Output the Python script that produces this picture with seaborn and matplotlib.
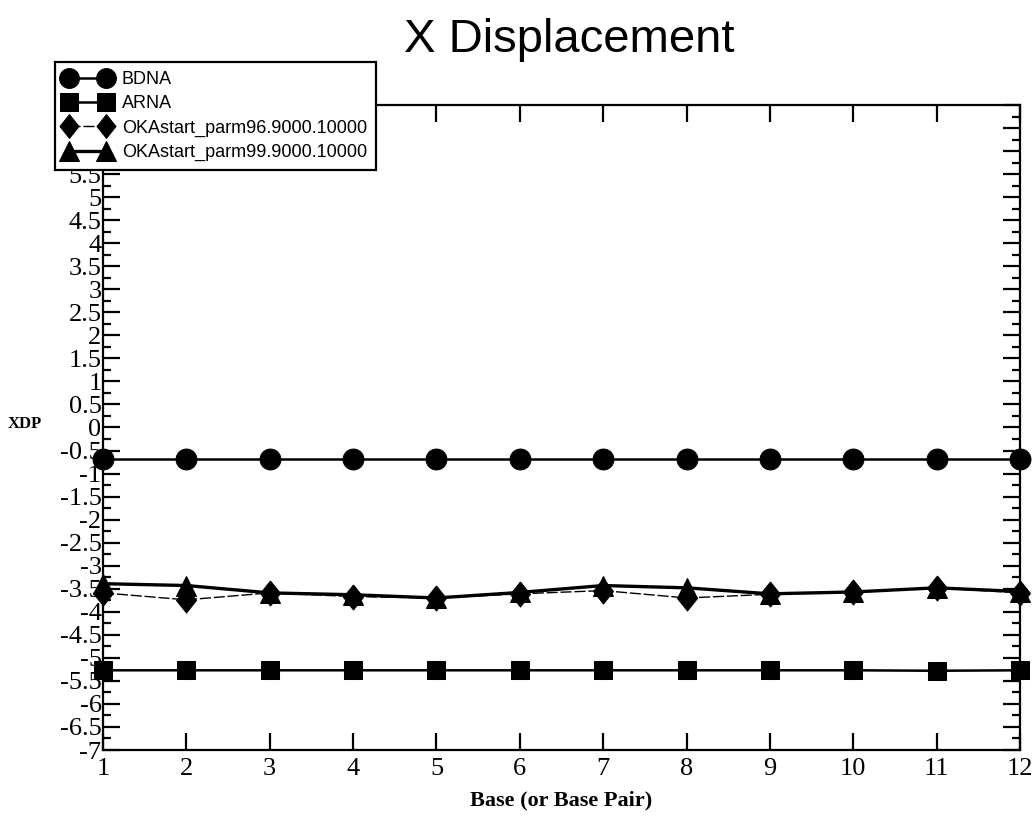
import numpy as np
import pandas as pd
import matplotlib
matplotlib.use("Agg")
import matplotlib.pyplot as plt
from matplotlib.ticker import MultipleLocator
import seaborn as sns

# data
base = [1, 2, 3, 4, 5, 6, 7, 8, 9, 10, 11, 12]
bdna = [-0.68, -0.68, -0.68, -0.68, -0.68, -0.68, -0.68, -0.68, -0.68, -0.68, -0.68, -0.68]
arna = [-5.27, -5.27, -5.27, -5.27, -5.27, -5.27, -5.27, -5.27, -5.27, -5.27, -5.28, -5.27]
oka96 = [-3.59, -3.74, -3.59, -3.67, -3.70, -3.61, -3.54, -3.70, -3.62, -3.57, -3.48, -3.59]
oka99 = [-3.39, -3.43, -3.59, -3.63, -3.70, -3.58, -3.43, -3.48, -3.61, -3.57, -3.48, -3.56]
labels = ["BDNA", "ARNA", "OKAstart_parm96.9000.10000", "OKAstart_parm99.9000.10000"]

sns.set_style("ticks")
plt.rcParams['font.family'] = ['Liberation Serif', 'DejaVu Serif']
plt.rcParams['text.color'] = 'black'
plt.rcParams['axes.labelcolor'] = 'black'
plt.rcParams['xtick.color'] = 'black'
plt.rcParams['ytick.color'] = 'black'

fig = plt.figure(figsize=(10.35, 8.38), dpi=100)
ax = fig.add_axes([103/1035, 88/838, (1020-103)/1035, (750-105)/838])

tall_diamond = [(0, 1), (0.8, 0), (0, -1), (-0.8, 0), (0, 1)]
styles = [
    dict(y=bdna, marker='o', ms=15, lw=1.8, ls='-'),
    dict(y=arna, marker='s', ms=13.5, lw=1.8, ls='-'),
    dict(y=oka96, marker=tall_diamond, ms=18, lw=1.0, ls=(0, (8, 2))),
    dict(y=oka99, marker='^', ms=15, lw=2.4, ls='-'),
]
for lab, st in zip(labels, styles):
    sns.lineplot(x=base, y=st['y'], ax=ax, color='black', marker=st['marker'],
                 markersize=st['ms'], markeredgecolor='black', linewidth=st['lw'],
                 linestyle=st['ls'], label=lab, clip_on=False)

ax.set_xlim(1, 12)
ax.set_ylim(-7, 7)
ax.xaxis.set_major_locator(MultipleLocator(1))
ax.yaxis.set_major_locator(MultipleLocator(0.5))
ax.yaxis.set_minor_locator(MultipleLocator(0.25))
ax.yaxis.set_major_formatter(plt.FuncFormatter(lambda v, p: ('%g' % v)))
for s in ax.spines.values():
    s.set_visible(True)
    s.set_linewidth(1.6)
    s.set_color('black')
ax.tick_params(which='both', direction='in', top=True, right=True, width=1.6,
               color='black', labelcolor='black')
ax.tick_params(which='major', length=12)
ax.tick_params(which='minor', length=6)
ax.tick_params(axis='y', labelsize=19, pad=1)
ax.tick_params(axis='x', labelsize=19, pad=6)

ax.set_xlabel("Base (or Base Pair)", fontsize=16, fontweight='bold', labelpad=7,
              color='black')
ax.set_ylabel("XDP", fontsize=12, fontweight='bold', rotation=0, color='black')
ax.yaxis.set_label_coords(-0.085, 0.493)

fig.text(569/1035, 1 - 40/838, "X Displacement", ha='center', va='center',
         fontsize=34, color='black', family=['Liberation Sans', 'DejaVu Sans'])

leg = ax.legend(loc='upper left', bbox_to_anchor=(55/1035, 1 - 62/838),
                bbox_transform=fig.transFigure, borderaxespad=0, numpoints=2,
                markerscale=0.95, handlelength=2.6, handletextpad=0.6,
                labelspacing=0.4, borderpad=0.5, fancybox=False,
                prop={'family': ['Liberation Sans', 'DejaVu Sans'], 'size': 13})
leg.get_frame().set_edgecolor('black')
leg.get_frame().set_linewidth(1.6)
leg.get_frame().set_alpha(1)
leg.set_zorder(10)
for t in leg.get_texts():
    t.set_color('black')

fig.savefig("out.png", dpi=100)
